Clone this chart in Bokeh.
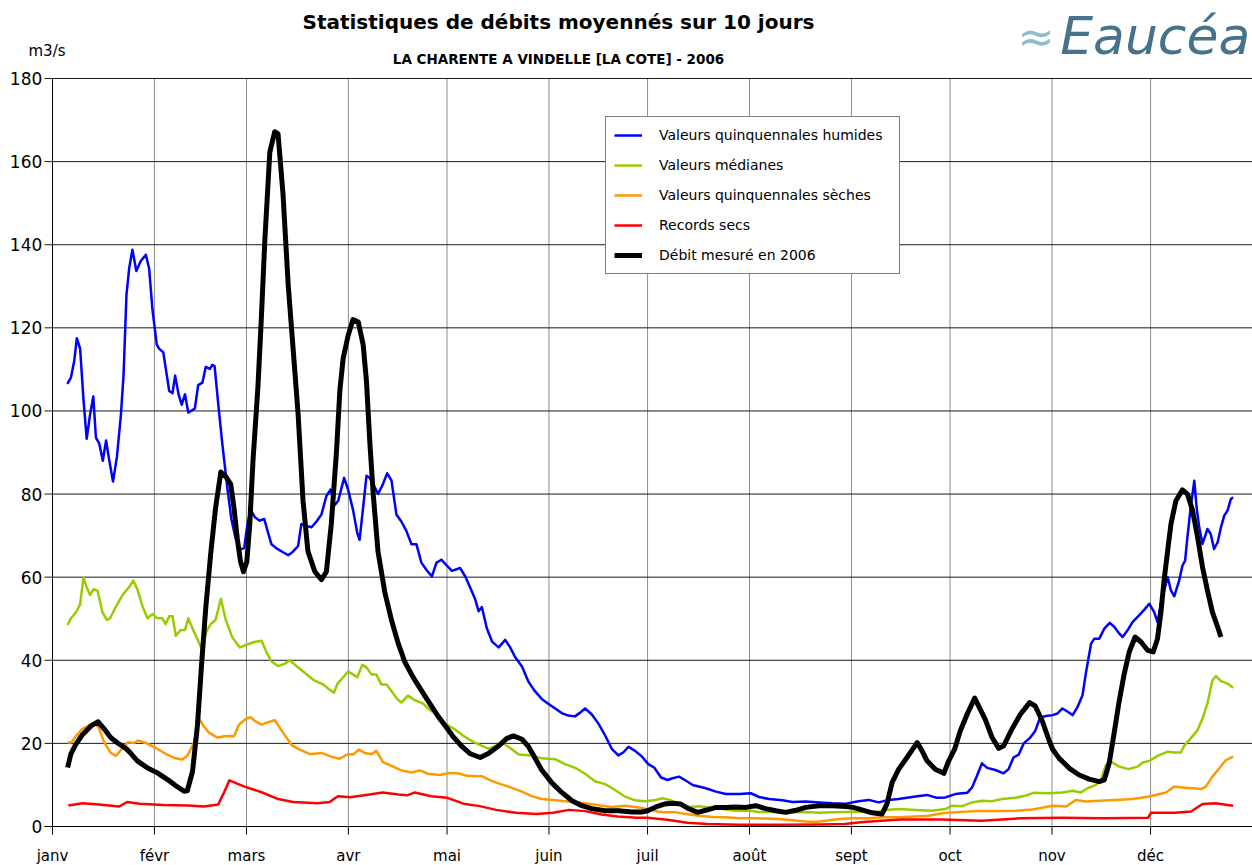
from bokeh.plotting import figure
from bokeh.models import Label, Legend, LegendItem, Range1d
from bokeh.core.properties import value
from bokeh.embed import file_html
from bokeh.resources import INLINE

MONTH_DAYS = [0, 31, 59, 90, 120, 151, 181, 212, 243, 273, 304, 334]
MONTH_LABELS = ["janv", "févr", "mars", "avr", "mai", "juin", "juil", "août", "sept", "oct", "nov", "déc"]
Y_TICKS = [0, 20, 40, 60, 80, 100, 120, 140, 160, 180]
Y_TICK_LABELS = [str(v) for v in Y_TICKS]

# Valeurs quinquennales humides
BLUE_DAY = [4.5, 5.6, 6.6, 7.4, 8.4, 9.4, 10.4, 11.4, 12.4, 13.2, 14.2, 15.3, 16.3, 17.2, 18.4, 19.6, 20.8, 21.6,
            22.5, 23.3, 24.3, 25.5, 26.8, 28.4, 29.4, 30.4, 31.7, 32.4, 33.7, 35.5, 36.5, 37.3, 38.4, 39.3, 40.3,
            41.3, 43.3, 44.3, 45.6, 46.6, 47.9, 48.6, 49.3, 50.5, 51.7, 53.2, 54.4, 55.7, 57.1, 58.3, 59.3, 60.3,
            61.5, 63.0, 64.4, 65.6, 66.6, 68.4, 70.1, 71.7, 73.2, 74.7, 75.7, 77.2, 78.8, 80.3, 81.8, 83.3, 84.6,
            85.8, 86.9, 88.7, 89.9, 91.4, 92.7, 93.4, 94.4, 95.5, 96.5, 98.0, 99.0, 100.4, 101.8, 103.1, 104.6,
            106.1, 107.6, 109.2, 110.7, 112.2, 113.7, 115.4, 116.8, 118.3, 119.8, 121.5, 124.0, 125.6, 127.1,
            128.6, 129.6, 130.6, 132.1, 133.7, 135.7, 137.7, 139.2, 140.7, 142.8, 144.8, 146.8, 148.8, 150.9,
            152.9, 154.9, 156.9, 158.9, 160.5, 162.0, 164.0, 166.1, 168.1, 170.1, 172.1, 173.6, 175.2, 177.2,
            179.2, 181.2, 183.0, 185.1, 187.1, 188.6, 190.6, 192.7, 194.7, 198.7, 201.8, 204.8, 208.9, 212.4,
            214.9, 218.0, 222.0, 225.1, 229.1, 233.2, 237.2, 241.3, 245.2, 248.3, 251.3, 254.3, 257.3, 259.9,
            262.5, 266.0, 269.0, 271.6, 274.6, 278.2, 279.7, 281.2, 282.7, 284.3, 286.8, 289.3, 290.8, 292.3,
            293.9, 295.4, 297.4, 298.9, 300.4, 302.2, 304.2, 305.7, 307.2, 308.8, 310.3, 311.8, 313.3, 314.3,
            315.9, 316.9, 318.4, 319.9, 321.6, 323.0, 324.5, 325.5, 327.0, 328.5, 330.5, 332.1, 333.6, 335.1,
            336.1, 337.5, 339.2, 340.2, 341.2, 342.7, 343.7, 344.5, 345.2, 346.2, 347.3, 348.0, 348.8, 349.8,
            351.3, 352.3, 353.3, 354.4, 355.4, 356.4, 357.4, 358.4, 359.1]
BLUE_VAL = [106.5, 108, 112, 117.5, 115, 103, 93.3, 99, 103.5, 93.6, 92.2, 88, 92.9, 88.4, 83, 89, 99, 108.5,
            128, 134.2, 138.8, 133.7, 136, 137.6, 134.2, 124.4, 116, 115, 114.1, 104.8, 104.3, 108.5, 103.8, 101.5,
            104, 99.6, 100.6, 106.2, 106.8, 110.6, 110.1, 111.1, 110.8, 101, 91.7, 81.4, 74, 69.3, 66.7, 67, 72.8,
            76.2, 74.5, 73.6, 74, 70.6, 67.9, 66.8, 66, 65.3, 66.2, 67.5, 72.8, 72.3, 72, 73.4, 75.1, 79.5, 81.1,
            77.3, 78.4, 83.9, 81.1, 76.2, 70.6, 69, 76.2, 84.4, 83.9, 81.7, 80, 82.2, 85, 83.3, 75.1, 73.4, 71.2,
            67.9, 67.9, 63.5, 61.8, 60.2, 63.5, 64.2, 62.9, 61.5, 62.2, 60.1, 57.4, 54.6, 51.8, 52.8, 47.7, 44.5,
            43.1, 44.9, 43.1, 40.8, 38.5, 34.8, 32.5, 30.7, 29.5, 28.4, 27.3, 26.7, 26.5, 27.4, 28.4, 27, 24.7,
            21.9, 18.7, 17.1, 17.8, 19.2, 18.2, 16.9, 15, 14.2, 11.8, 11.2, 11.6, 12, 11, 10, 9.2, 8.4, 7.8, 7.8,
            8, 7.1, 6.6, 6.3, 5.9, 6, 5.8, 5.6, 5.5, 6.1, 6.4, 5.8, 6.4, 6.6, 6.9, 7.2, 7.6, 6.9, 7, 7.8, 8.1, 9.4,
            12.2, 15.2, 14.1, 13.6, 12.8, 13.8, 16.6, 17.3, 20, 21.4, 23, 26.2, 26.6, 26.8, 27.2, 28.4, 27.6, 26.8,
            28.8, 31.6, 36.8, 44, 45.2, 45.2, 47.6, 49, 48, 46.4, 45.6, 47.2, 49.2, 50.8, 52.2, 53.6, 51.6, 49.2,
            55, 60, 56.8, 55.4, 59.2, 62.8, 64, 69.6, 76.8, 83.2, 76.8, 72, 68, 71.6, 70.4, 66.8, 68.4, 72, 74.8,
            76, 78.8, 79.2]

# Valeurs médianes
GREEN_DAY = [4.6, 5.6, 7.1, 8.4, 9.4, 10.4, 11.4, 12.5, 13.7, 15.2, 16.5, 17.5, 19.3, 21.3, 23.3, 24.6, 25.8,
             27.4, 28.9, 30.4, 31.9, 33.4, 34.4, 35.5, 36.5, 37.5, 39.0, 40.3, 41.3, 42.5, 44.1, 45.4, 46.8, 48.1,
             49.6, 51.2, 52.7, 54.7, 57.0, 59.3, 61.3, 63.6, 65.1, 66.6, 68.6, 70.7, 72.2, 74.2, 76.7, 79.3, 82.3,
             84.3, 85.6, 86.7, 88.4, 89.9, 91.4, 92.7, 94.2, 95.5, 97.0, 98.5, 100.0, 101.6, 103.1, 104.6, 106.1,
             108.1, 110.2, 112.7, 114.7, 117.3, 119.3, 122.5, 125.6, 128.6, 132.7, 136.7, 138.7, 141.8, 145.8,
             148.8, 152.9, 155.9, 159.0, 162.0, 165.0, 168.1, 171.1, 174.1, 177.2, 180.2, 183.5, 185.6, 188.1,
             190.6, 193.7, 196.7, 199.7, 203.8, 207.8, 211.9, 214.9, 219.0, 224.1, 229.1, 233.2, 237.2, 241.3,
             245.3, 250.3, 253.3, 257.4, 262.5, 267.5, 271.6, 273.6, 276.6, 279.7, 282.7, 285.8, 288.8, 292.8,
             295.9, 298.4, 303.0, 307.2, 310.3, 312.8, 314.8, 317.4, 318.9, 320.4, 321.9, 324.5, 327.3, 330.0,
             331.6, 333.6, 336.1, 339.2, 341.2, 343.2, 344.2, 346.2, 348.3, 349.8, 351.3, 352.8, 353.9, 355.4,
             357.4, 359.1]
GREEN_VAL = [48.5, 50.1, 51.5, 53.4, 59.9, 57.6, 55.7, 57.1, 56.7, 51.5, 49.7, 50.1, 52.9, 55.7, 57.6, 59.2, 57.1,
             52.9, 50.1, 51.1, 50.1, 50.1, 48.7, 50.6, 50.6, 45.9, 47.3, 47.3, 50.1, 47.8, 45, 42.7, 46.9, 48.7,
             49.7, 54.8, 49.7, 45.5, 43.1, 43.8, 44.4, 44.7, 41.9, 39.7, 38.6, 39.2, 40, 38.6, 37, 35.3, 34.2, 32.9,
             32.2, 34.4, 35.9, 37.3, 36.6, 35.9, 38.9, 38.3, 36.6, 36.6, 34.2, 34.2, 32.6, 30.9, 29.8, 31.5, 30.4,
             29.6, 28.1, 26.7, 24.8, 23.3, 21.5, 20.1, 18.7, 20.1, 19.2, 17.3, 17.1, 16.4, 16.2, 15, 14.1, 12.7,
             10.9, 10.2, 8.8, 7.2, 6.3, 6.1, 6.4, 6.8, 6.3, 5.4, 4.7, 4.9, 4.6, 4.2, 3.8, 3.8, 3.5, 3.5, 3.4, 3.5,
             3.3, 3.4, 3.5, 3.6, 3.4, 4, 4.2, 4, 3.8, 4.2, 5, 4.9, 5.8, 6.2, 6.1, 6.6, 6.9, 7.4, 8.1, 8, 8.2, 8.6,
             8.2, 9.2, 10, 11.2, 14.8, 15.6, 14.4, 13.8, 14.4, 15.4, 15.8, 17, 18, 17.8, 17.8, 19.4, 21.2, 23.2,
             26, 29.6, 35.2, 36.2, 35, 34.4, 33.4]

# Valeurs quinquennales sèches
ORANGE_DAY = [4.6, 5.8, 7.1, 9.1, 11.7, 13.0, 14.2, 15.7, 17.7, 19.3, 20.8, 23.0, 24.8, 26.0, 28.4, 31.4, 34.4,
              37.0, 39.5, 41.0, 43.1, 44.6, 46.1, 47.6, 50.2, 52.7, 55.2, 56.7, 58.8, 60.3, 61.5, 63.6, 65.6, 67.6,
              69.6, 72.7, 75.2, 78.3, 81.8, 84.8, 87.3, 89.9, 91.7, 93.1, 95.0, 97.0, 98.5, 100.5, 103.1, 106.1,
              109.2, 111.7, 114.2, 117.8, 120.8, 123.3, 125.6, 128.6, 130.6, 132.7, 135.2, 138.7, 142.8, 145.8,
              148.8, 152.9, 155.9, 159.0, 162.0, 166.1, 170.1, 174.1, 177.2, 180.2, 184.0, 186.6, 189.6, 192.7,
              196.7, 200.8, 204.8, 208.9, 212.9, 216.9, 221.0, 225.1, 229.1, 232.2, 235.2, 239.3, 243.3, 248.3,
              252.3, 257.4, 262.5, 266.5, 270.6, 274.6, 280.7, 286.8, 292.8, 298.1, 301.0, 304.2, 308.3, 311.3,
              314.3, 318.4, 323.5, 328.5, 333.6, 338.7, 341.2, 343.7, 346.8, 349.3, 350.8, 352.8, 354.9, 356.9,
              359.1]
ORANGE_VAL = [20.2, 20.3, 21.7, 23.5, 24.6, 25.0, 23.5, 20.3, 17.7, 17, 18.4, 20.3, 20.1, 20.7, 20.1, 18.9, 17.5,
              16.5, 16.1, 17, 20.2, 25.9, 24, 22.6, 21.4, 21.8, 21.7, 24.5, 25.9, 26.3, 25.4, 24.5, 25.1, 25.6,
              23.2, 19.6, 18.5, 17.4, 17.7, 16.8, 16.3, 17.4, 17.4, 18.5, 17.7, 17.4, 18.2, 15.5, 14.6, 13.5, 13,
              13.5, 12.7, 12.4, 12.9, 12.8, 12.3, 12.1, 12.1, 11.3, 10.5, 9.6, 8.4, 7.3, 6.6, 6.3, 6.1, 5.9, 5.6,
              5.1, 4.7, 5.0, 4.7, 4.3, 3.6, 3.4, 3.4, 3, 2.6, 2.3, 2.2, 2, 2, 1.9, 1.8, 1.5, 1.2, 1.1, 1.4, 1.8, 2,
              2, 2.2, 2.2, 2.4, 2.6, 3.2, 3.4, 3.7, 3.7, 3.8, 4.1, 4.5, 5, 4.8, 6.4, 6, 6.2, 6.4, 6.6, 7.2, 8.2, 9.6,
              9.4, 9.2, 9, 9.6, 12, 14, 16, 16.8]

# Records secs
RED_DAY = [4.8, 9.1, 14.1, 20.2, 22.7, 26.4, 33.8, 41.2, 46.1, 50.4, 52.0, 53.8, 58.4, 63.4, 68.3, 73.2, 80.6,
           84.3, 86.8, 90.5, 95.4, 100.4, 105.3, 107.8, 110.2, 115.2, 120.1, 125.0, 130.0, 134.9, 141.0, 147.2,
           152.2, 157.1, 162.0, 167.0, 171.9, 177.8, 180.9, 187.0, 193.1, 199.3, 209.1, 221.3, 233.6, 241.0,
           245.8, 252.0, 258.1, 270.3, 282.6, 294.8, 307.1, 319.4, 333.2, 334.1, 341.4, 346.3, 349.8, 353.7,
           359.1]
RED_VAL = [5.05, 5.6, 5.3, 4.8, 5.9, 5.5, 5.2, 5.05, 4.8, 5.3, 7.9, 11.1, 9.6, 8.3, 6.7, 5.9, 5.6, 5.9, 7.3, 7.05,
           7.6, 8.2, 7.7, 7.5, 8.2, 7.3, 6.9, 5.5, 4.9, 4.0, 3.3, 3.0, 3.3, 4.0, 3.7, 2.9, 2.4, 2.1, 2.1, 1.6, 0.9,
           0.6, 0.4, 0.4, 0.5, 0.6, 1.0, 1.4, 1.7, 1.7, 1.4, 2.0, 2.1, 2.0, 2.1, 3.3, 3.3, 3.6, 5.4, 5.6, 5.0]

# Débit mesuré en 2006
BLACK_DAY = [4.6, 5.6, 7.1, 9.1, 11.7, 13.9, 15.7, 17.7, 19.8, 22.3, 23.8, 25.8, 28.9, 31.9, 35.0, 37.5, 40.0,
             41.0, 42.6, 44.1, 45.3, 46.6, 48.1, 49.6, 51.2, 52.7, 54.2, 55.2, 56.2, 57.2, 58.1, 59.1, 60.0, 61.0,
             62.5, 63.5, 64.6, 66.1, 67.6, 68.6, 70.1, 71.7, 73.2, 74.7, 76.2, 77.7, 79.8, 81.8, 83.3, 84.8, 86.4,
             87.4, 88.4, 89.9, 91.4, 93.0, 94.5, 95.5, 96.5, 97.6, 99.0, 101.1, 103.1, 105.1, 107.1, 109.7, 113.2,
             117.3, 119.5, 122.0, 124.6, 127.1, 130.1, 132.7, 135.7, 138.2, 140.2, 142.8, 144.8, 146.8, 148.8,
             151.9, 154.9, 158.0, 161.0, 164.0, 168.1, 172.1, 176.2, 179.2, 181.0, 183.5, 186.1, 188.6, 191.1,
             193.7, 196.2, 198.7, 201.8, 204.8, 207.8, 210.9, 213.9, 216.9, 220.0, 223.0, 226.1, 229.1, 233.2,
             237.2, 241.3, 243.5, 246.2, 249.3, 252.3, 253.8, 255.4, 257.4, 259.9, 263.0, 264.5, 266.0, 268.5,
             271.1, 272.6, 274.4, 276.1, 278.2, 280.5, 282.2, 283.7, 285.8, 287.8, 289.3, 291.8, 294.4, 297.2,
             298.9, 301.0, 303.0, 304.2, 306.2, 309.3, 312.3, 315.3, 318.4, 319.9, 321.4, 322.9, 324.5, 326.0,
             327.5, 329.3, 331.1, 333.1, 334.8, 336.1, 337.1, 338.1, 339.2, 340.2, 341.7, 343.7, 345.2, 346.8,
             348.3, 349.8, 351.3, 352.8, 354.4, 355.4]
BLACK_VAL = [14.2, 17.5, 19.8, 22.1, 24.2, 25.2, 23.5, 21.4, 20.1, 18.8, 17.6, 15.8, 14.1, 12.9, 11.3, 9.8, 8.5,
             8.6, 13.3, 24.5, 38.5, 52.5, 65.5, 76.7, 85.3, 84.2, 82.4, 76.7, 69.3, 63.7, 61.3, 63.7, 72.8, 88.3,
             106.0, 122.0, 141.3, 162.3, 167.2, 166.7, 152.3, 130.2, 114.8, 99.3, 78.4, 66.2, 61.3,
             59.4, 61.3, 72.8, 90.5, 104.9, 112.6, 118.1, 122, 121.4, 115.9, 107.1, 92.7, 79.5, 66.2, 56.3, 49.7,
             44.2, 39.7, 35.9, 31.5, 26.5, 24.2, 21.5, 19.2, 17.5, 16.6, 17.6, 19.4, 21.2, 21.8, 21, 19.2, 16.4,
             13.6, 10.5, 8.2, 6.2, 5.0, 4.3, 3.8, 3.8, 3.5, 3.5, 3.8, 4.7, 5.4, 5.6, 5.4, 4.2, 3.4, 3.9, 4.6, 4.6,
             4.7, 4.6, 5, 4.3, 3.8, 3.4, 3.9, 4.6, 5, 5, 4.8, 4.6, 4, 3.3, 3, 5.4, 10.6, 13.8, 16.6, 20.2, 18.2,
             15.8, 13.8, 12.8, 15.8, 18.6, 23, 27, 30.9, 28.2, 25.8, 21.4, 18.8, 19.4, 23.4, 27, 29.8, 29, 25.5,
             21, 18.6, 16.4, 14, 12.4, 11.4, 10.8, 11.2, 15.2, 22.4, 30.4, 36.8, 42, 45.6, 44.4, 42.4, 42, 45.2,
             51.2, 59.2, 66.4, 72.8, 78.4, 81, 80, 76, 69.6, 62.4, 56.8, 51.6, 48, 45.6]

FONT = "DejaVu Sans"
X_MIN, X_MAX = -15.82, 365    # room on the left for the y tick labels and "m3/s"
Y_MIN, Y_MAX = -9.385, 180    # room below for the month labels
Y_TOP = 198.77                # headroom above the 180 line for the titles
Y_TICK_LEN = 2.43             # 8 px in days
X_TICK_LEN = 1.93             # 8 px in m3/s
N_M = len(MONTH_DAYS)
N_Y = len(Y_TICKS)

p = figure(width=1252, height=865, output_backend="svg", toolbar_location=None,
           x_range=Range1d(X_MIN, X_MAX), y_range=Range1d(Y_MIN, Y_TOP),
           min_border_left=0, min_border_right=0, min_border_top=0, min_border_bottom=0)
p.outline_line_color = None
p.background_fill_color = "white"
p.border_fill_color = "white"
p.xaxis.visible = False
p.yaxis.visible = False
p.xgrid.visible = False
p.ygrid.visible = False

# axes drawn by hand so that the surrounding texts are not clipped
p.segment(x0=MONTH_DAYS[1:], y0=[0] * (N_M - 1), x1=MONTH_DAYS[1:], y1=[Y_MAX] * (N_M - 1),
          line_color="#8c8c8c", line_width=1)
p.segment(x0=[-Y_TICK_LEN] * N_Y, y0=Y_TICKS, x1=[X_MAX] * N_Y, y1=Y_TICKS,
          line_color="#1a1a1a", line_width=1)
p.segment(x0=[0], y0=[0], x1=[0], y1=[Y_MAX], line_color="black", line_width=1)
p.segment(x0=[-Y_TICK_LEN], y0=[0], x1=[X_MAX], y1=[0], line_color="black", line_width=1)
p.segment(x0=MONTH_DAYS, y0=[0] * N_M, x1=MONTH_DAYS, y1=[-X_TICK_LEN] * N_M, line_color="black", line_width=1)
p.text(x=[-3.1] * N_Y, y=Y_TICKS, text=Y_TICK_LABELS, text_font=value(FONT),
       text_font_size=value("17px"), text_align="right", text_baseline="middle", text_color="black")
p.text(x=MONTH_DAYS, y=[-6.98] * N_M, text=MONTH_LABELS, text_font=value(FONT),
       text_font_size=value("15px"), text_align="center", text_baseline="middle", text_color="black")

r_blue = p.line(BLUE_DAY, BLUE_VAL, line_color="#0000FF", line_width=2.5, line_join="round")
r_green = p.line(GREEN_DAY, GREEN_VAL, line_color="#99CC00", line_width=2.5, line_join="round")
r_orange = p.line(ORANGE_DAY, ORANGE_VAL, line_color="#FF9900", line_width=2.5, line_join="round")
r_red = p.line(RED_DAY, RED_VAL, line_color="#FF0000", line_width=2.5, line_join="round")
r_black = p.line(BLACK_DAY, BLACK_VAL, line_color="#000000", line_width=5, line_join="round")

legend = Legend(items=[
    LegendItem(label="Valeurs quinquennales humides", renderers=[r_blue]),
    LegendItem(label="Valeurs médianes", renderers=[r_green]),
    LegendItem(label="Valeurs quinquennales sèches", renderers=[r_orange]),
    LegendItem(label="Records secs", renderers=[r_red]),
    LegendItem(label="Débit mesuré en 2006", renderers=[r_black]),
], location=(605, 591), orientation="vertical")
legend.border_line_color = "black"
legend.border_line_width = 1
legend.background_fill_color = "white"
legend.background_fill_alpha = 1
legend.padding = 8
legend.spacing = 10
legend.margin = 0
legend.glyph_width = 28
legend.glyph_height = 20
legend.label_standoff = 17
legend.label_width = 232
legend.label_text_font = FONT
legend.label_text_font_size = "14px"
legend.label_text_color = "black"
legend.label_height = 20
p.add_layout(legend, "center")

p.add_layout(Label(x=153.9, y=193.5, text="Statistiques de débits moyennés sur 10 jours",
                   text_font=FONT, text_font_size="20px", text_font_style="bold",
                   text_align="center", text_baseline="middle", text_color="black"))
p.add_layout(Label(x=153.9, y=184.6, text="LA CHARENTE A VINDELLE [LA COTE] - 2006",
                   text_font=FONT, text_font_size="13.5px", text_font_style="bold",
                   text_align="center", text_baseline="middle", text_color="black"))
p.add_layout(Label(x=-7.3, y=186.7, text="m3/s", text_font=FONT, text_font_size="15px",
                   text_align="left", text_baseline="middle", text_color="black"))
p.add_layout(Label(x=293.5, y=190.0, text="≈", text_font=FONT, text_font_size="44px",
                   text_font_style="italic", text_align="left", text_baseline="middle", text_color="#8dbccf"))
p.add_layout(Label(x=306.5, y=190.3, text="Eaucéa", text_font=FONT, text_font_size="52px",
                   text_font_style="italic", text_align="left", text_baseline="middle", text_color="#47728c"))

open("out.html", "w").write(file_html(p, INLINE))
